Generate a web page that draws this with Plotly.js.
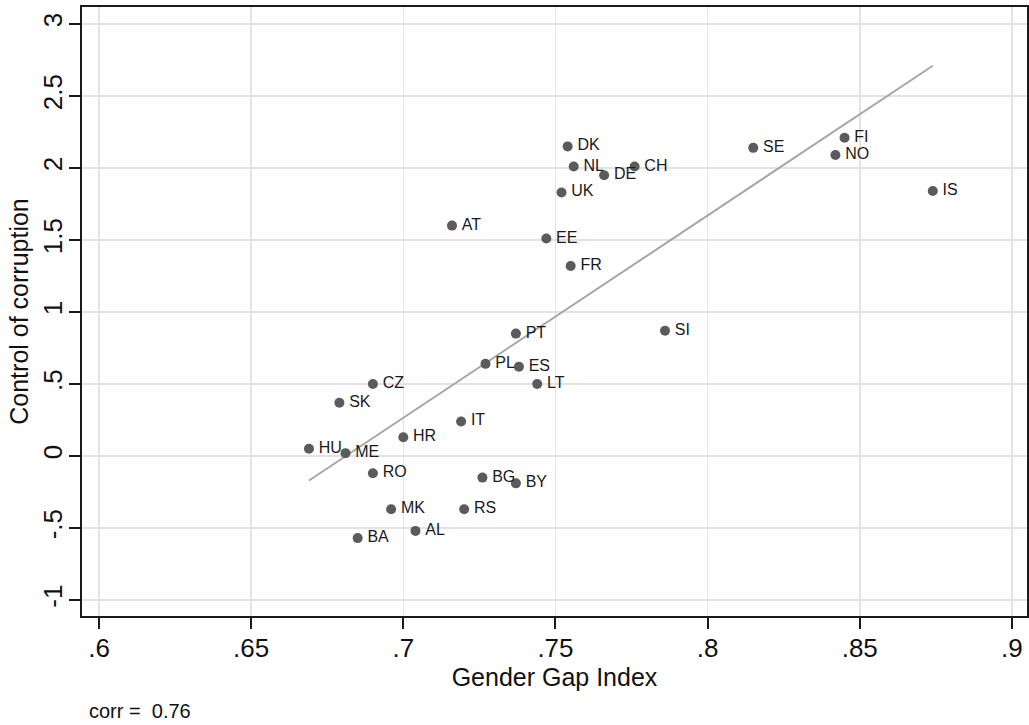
<!DOCTYPE html>
<html>
<head>
<meta charset="utf-8">
<script src="https://cdn.plot.ly/plotly-3.0.1.min.js"></script>
<style>
html,body{margin:0;padding:0;background:#fff;}
#chart{width:1029px;height:725px;}
</style>
</head>
<body>
<div id="chart"></div>
<script>
// Country codes
var countries = ['DK','NL','CH','DE','UK','AT','EE','FR','PT','SI','SE','FI','NO','IS','PL','ES','CZ','LT','SK','IT','HR','HU','ME','RO','BG','BY','MK','RS','AL','BA'];
// Gender Gap Index
var ggi = [0.754,0.756,0.776,0.766,0.752,0.716,0.747,0.755,0.737,0.786,0.815,0.845,0.842,0.874,0.727,0.738,0.690,0.744,0.679,0.719,0.700,0.669,0.681,0.690,0.726,0.737,0.696,0.720,0.704,0.685];
// Control of corruption
var corruption = [2.15,2.01,2.01,1.95,1.83,1.60,1.51,1.32,0.85,0.87,2.14,2.21,2.09,1.84,0.64,0.62,0.50,0.50,0.37,0.24,0.13,0.05,0.02,-0.12,-0.15,-0.19,-0.37,-0.37,-0.52,-0.57];
// Fitted line endpoints
var fitX = [0.669, 0.874];
var fitY = [-0.17, 2.71];
// Tick labels
var xTickVals = [0.6,0.65,0.7,0.75,0.8,0.85,0.9];
var xTickText = ['.6','.65','.7','.75','.8','.85','.9'];
var yTickVals = [-1,-0.5,0,0.5,1,1.5,2,2.5,3];
var yTickText = ['-1','-.5','0','.5','1','1.5','2','2.5','3'];
var corrText = 'corr =  0.76';

var FONT = 'Liberation Sans, Arial, Helvetica, sans-serif';

var traces = [
  {x: fitX, y: fitY, mode: 'lines', line: {color: '#a6a6a6', width: 2}, hoverinfo: 'skip', showlegend: false},
  {x: ggi, y: corruption, mode: 'markers', marker: {color: '#5b5b5b', size: 10}, showlegend: false},
  {x: ggi, y: corruption, mode: 'markers+text', text: countries, textposition: 'middle right',
   textfont: {family: FONT, size: 16, color: '#1a1a1a'},
   marker: {color: 'rgba(0,0,0,0)', size: 14}, showlegend: false, hoverinfo: 'skip'}
];

var axisCommon = {
  showline: true, linecolor: '#1a1a1a', linewidth: 2, mirror: true,
  ticks: 'outside', ticklen: 11, tickwidth: 2, tickcolor: '#1a1a1a',
  showgrid: true, gridcolor: '#e3e3e3', gridwidth: 1.5,
  zeroline: false, tickmode: 'array',
  tickfont: {family: FONT, size: 26, color: '#111'},
  automargin: false
};

var layout = {
  width: 1029, height: 725,
  margin: {l: 82, r: 2, t: 7, b: 109},
  paper_bgcolor: '#fff', plot_bgcolor: '#fff',
  showlegend: false,
  xaxis: Object.assign({}, axisCommon, {
    range: [0.59441, 0.90496], tickvals: xTickVals, ticktext: xTickText,
    ticklabelstandoff: -3,
    title: {text: 'Gender Gap Index', font: {family: FONT, size: 25, color: '#111'}, standoff: 0}
  }),
  yaxis: Object.assign({}, axisCommon, {
    range: [-1.111, 3.118], tickvals: yTickVals, ticktext: yTickText, tickangle: -90,
    ticklabelstandoff: -3,
    title: {text: 'Control of corruption', font: {family: FONT, size: 25, color: '#111'}, standoff: 2}
  }),
  annotations: [{
    xref: 'paper', yref: 'paper', x: 0.0053, y: -0.156, xanchor: 'left', yanchor: 'middle',
    text: corrText, showarrow: false, font: {family: FONT, size: 20, color: '#111'}
  }]
};

Plotly.newPlot('chart', traces, layout, {displayModeBar: false, staticPlot: true});
</script>
</body>
</html>
